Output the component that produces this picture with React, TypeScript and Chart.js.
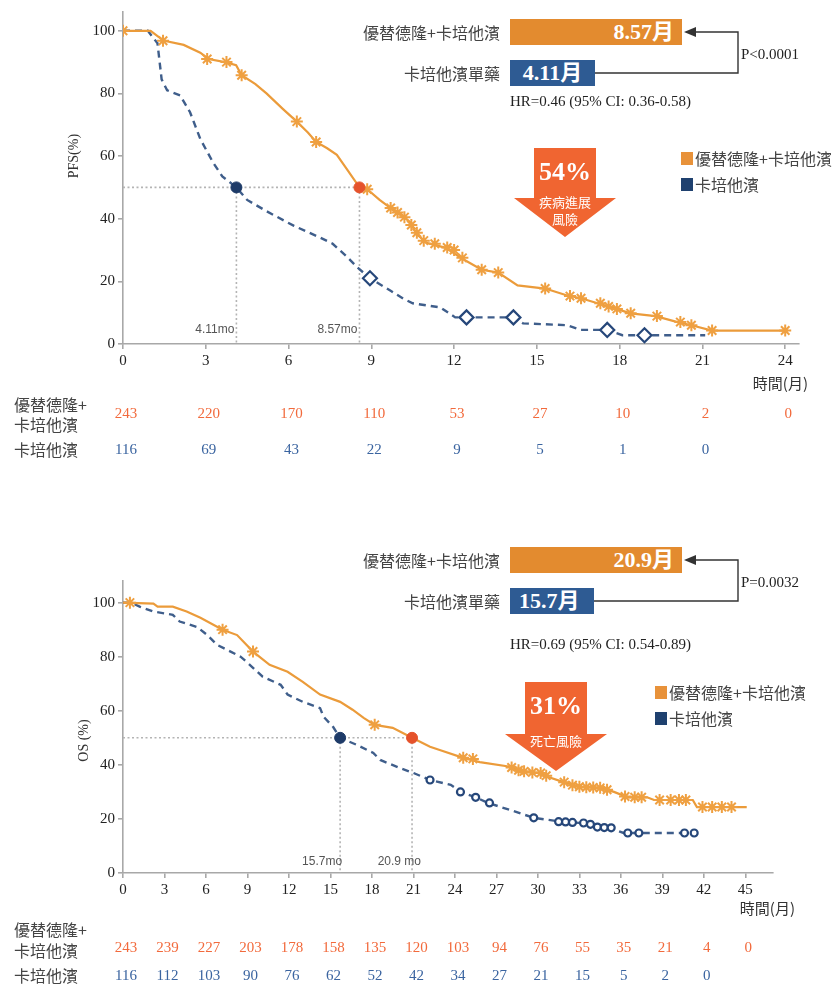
import React, { useEffect, useRef } from "react";
import { Chart, registerables } from "chart.js";

Chart.register(...registerables);

const SERIF = '"Liberation Serif", "Times New Roman", "Noto Sans CJK TC", serif';
const CJK = '"Noto Sans CJK TC", "Noto Sans CJK SC", sans-serif';
const NARROW = '"Liberation Sans Narrow", "Liberation Sans", sans-serif';

const COMBO_LINE = "#EB9B3A";
const MONO_LINE = "#3F5E8B";
const COMBO_TEXT = "#F26A3C";
const MONO_TEXT = "#3A64A0";
const COMBO_BAR = "#E38B2F";
const MONO_BAR = "#2E5B93";
const ARROW_RED = "#F06531";
const AXIS = "#A8A8A8";

const comboName = "優替德隆+卡培他濱";
const monoName = "卡培他濱";
const monoAlone = "卡培他濱單藥";

// ---------- PFS ----------
const pfsMonths = [0, 3, 6, 9, 12, 15, 18, 21, 24];
const pfsComboRisk = [243, 220, 170, 110, 53, 27, 10, 2, 0];
const pfsMonoRisk = [116, 69, 43, 22, 9, 5, 1, 0];

const pfsComboX = [0, 1.0, 1.3, 1.5, 2.2, 2.8, 3.1, 3.7, 4.1, 4.3, 4.8, 5.2, 5.8, 6.3, 6.7, 7.0, 7.4, 7.75, 8.1, 8.57, 8.85, 9.3, 9.7, 10.05, 10.4, 10.65, 11.0, 11.7, 12.3, 13.0, 13.6, 14.3, 15.3, 16.1, 16.6, 17.2, 17.7, 18.4, 19.3, 20.1, 20.6, 21.35, 24];
const pfsComboY = [100, 100, 98, 96.8, 95.5, 93, 91, 90, 89, 85.8, 83, 80, 75, 71, 67.5, 64.5, 62.5, 60.4, 56, 50, 49.4, 46, 43.4, 41.5, 39, 35, 32.3, 30.7, 27.2, 23.7, 22.8, 18.7, 17.7, 15.5, 14.6, 13, 11.7, 9.8, 8.9, 7, 6, 4.3, 4.3];
const pfsMonoX = [0, 0.9, 1.25, 1.4, 1.6, 2.07, 2.43, 2.8, 3.26, 3.6, 4.11, 4.5, 5.2, 6.2, 7.14, 7.6, 8.1, 8.5, 8.95, 9.7, 10.15, 10.5, 11.5, 12.04, 14.15, 14.5, 16.1, 16.6, 17.55, 18.1, 21.1];
const pfsMonoY = [100, 100, 96, 84.5, 81, 79.4, 74, 65.5, 58, 53.5, 50, 46, 42.4, 37.7, 34, 32, 28, 24.4, 21, 17, 14.5, 13, 11.7, 8.5, 8.5, 6.6, 6, 4.5, 4.5, 2.8, 2.8];
const pfsComboCensorX = [0, 1.45, 3.05, 3.75, 4.3, 6.3, 7.0, 8.85, 9.7, 9.95, 10.2, 10.45, 10.65, 10.9, 11.3, 11.75, 12.0, 12.3, 13.0, 13.6, 15.3, 16.2, 16.6, 17.3, 17.6, 17.9, 18.4, 19.35, 20.2, 20.6, 21.35, 24];
const pfsComboCensorY = [100, 96.8, 91, 90, 85.8, 71, 64.5, 49.4, 43.4, 42, 40.5, 38, 35.5, 33, 32, 30.8, 30, 27.5, 23.7, 22.8, 17.7, 15.3, 14.6, 13, 12, 11.2, 9.8, 8.9, 7, 6, 4.3, 4.3];
const pfsMonoCensorX = [8.95, 12.45, 14.15, 17.55, 18.9];
const pfsMonoCensorY = [21, 8.5, 8.5, 4.5, 2.8];
const pfsComboMedian = 8.57;
const pfsMonoMedian = 4.11;

// ---------- OS ----------
const osMonths = [0, 3, 6, 9, 12, 15, 18, 21, 24, 27, 30, 33, 36, 39, 42, 45];
const osComboRisk = [243, 239, 227, 203, 178, 158, 135, 120, 103, 94, 76, 55, 35, 21, 4, 0];
const osMonoRisk = [116, 112, 103, 90, 76, 62, 52, 42, 34, 27, 21, 15, 5, 2, 0];

const osComboX = [0, 2.2, 2.5, 3.6, 4.6, 5.6, 7.2, 8.25, 9.4, 10.6, 11.9, 13.0, 14.25, 15.7, 16.6, 17.4, 18.2, 19.5, 20.9, 22.2, 22.9, 24.6, 25.8, 28.0, 28.6, 29.2, 30.2, 30.7, 31.8, 33.0, 34.5, 35.5, 36.5, 37.9, 38.4, 41.2, 41.5, 45.1];
const osComboY = [100, 99.6, 98.5, 98.5, 96.7, 94.4, 90, 88, 81.9, 77, 74.4, 70.7, 66, 63.3, 60.4, 57.4, 54.8, 53.7, 50, 46.7, 45.5, 42.6, 41, 39.3, 38, 37.4, 37, 35.6, 33.7, 31.9, 31.5, 30, 28, 28, 27, 27, 24.4, 24.4];
const osMonoX = [0, 0.6, 1.2, 2.2, 3.6, 4.1, 5.35, 6.1, 6.8, 7.5, 8.5, 9.0, 10.1, 11.4, 11.9, 13.0, 14.25, 14.5, 15.2, 15.7, 16.9, 18.1, 18.6, 20.0, 21.0, 22.2, 23.7, 24.4, 25.5, 26.4, 28.0, 29.7, 31.8, 33.2, 34.0, 35.2, 36.2, 41.75];
const osMonoY = [100, 100, 98.5, 96.7, 95.5, 93, 91, 88, 84.4, 82.6, 80, 77.8, 72.6, 69.6, 66, 63.3, 61, 57.8, 54, 50, 47.4, 44.4, 41.8, 38.9, 37, 34.4, 32.6, 30, 28, 25.9, 23.3, 20.4, 18.9, 18.5, 17, 16.7, 14.8, 14.8];
const osComboCensorX = [0.5, 7.2, 9.4, 18.2, 24.6, 25.3, 28.1, 28.6, 29.0, 29.6, 30.2, 30.6, 31.9, 32.5, 33.0, 33.5, 34.0, 34.5, 35.0, 36.3, 37.0, 37.5, 38.8, 39.6, 40.2, 40.7, 41.9, 42.6, 43.3, 44.0];
const osComboCensorY = [100, 90, 81.9, 54.8, 42.6, 42.2, 39, 38, 37.6, 37.2, 37, 36, 33.6, 32.5, 31.9, 31.7, 31.6, 31.5, 30.8, 28.3, 28, 28, 27, 27, 27, 27, 24.4, 24.4, 24.4, 24.4];
const osMonoCensorX = [22.2, 24.4, 25.5, 26.5, 29.7, 31.5, 32.0, 32.5, 33.3, 33.8, 34.3, 34.8, 35.3, 36.5, 37.3, 40.6, 41.3];
const osMonoCensorY = [34.4, 30, 28, 25.9, 20.4, 19, 18.9, 18.7, 18.5, 18, 17, 16.8, 16.7, 14.8, 14.8, 14.8, 14.8];
const osComboMedian = 20.9;
const osMonoMedian = 15.7;

type Pt = { x: number; y: number };
const zip = (xs: number[], ys: number[]): Pt[] => xs.map((x, i) => ({ x, y: ys[i] }));

type Panel = {
  top: number;
  height: number;
  padding: { top: number; right: number; bottom: number; left: number };
  xMax: number;
  yMax: number;
  months: number[];
  comboRisk: number[];
  monoRisk: number[];
  comboX: number[]; comboY: number[];
  monoX: number[]; monoY: number[];
  comboCX: number[]; comboCY: number[];
  monoCX: number[]; monoCY: number[];
  comboMedian: number; monoMedian: number;
  monoCensorStyle: "rectRot" | "circle";
  monoCensorRadius: number;
  yTitle: string; yTitleX: number; yTitleAt: number;
  medianLabelDy: number;
  medianLabels: { value: number; text: string; dx: number }[];
  unitRight: number; unitY: number;
  comboLabelY: [number, number]; comboNumY: number; monoNumY: number;
};

const panels: Panel[] = [
  {
    top: 0, height: 470,
    padding: { top: 9, right: 36, bottom: 96, left: 0 },
    xMax: 24.5, yMax: 106,
    months: pfsMonths, comboRisk: pfsComboRisk, monoRisk: pfsMonoRisk,
    comboX: pfsComboX, comboY: pfsComboY, monoX: pfsMonoX, monoY: pfsMonoY,
    comboCX: pfsComboCensorX, comboCY: pfsComboCensorY,
    monoCX: pfsMonoCensorX, monoCY: pfsMonoCensorY,
    comboMedian: pfsComboMedian, monoMedian: pfsMonoMedian,
    monoCensorStyle: "rectRot", monoCensorRadius: 7,
    yTitle: "PFS(%)", yTitleX: 74, yTitleAt: 60,
    medianLabelDy: -14,
    medianLabels: [
      { value: pfsMonoMedian, text: "4.11mo", dx: -2 },
      { value: pfsComboMedian, text: "8.57mo", dx: -2 },
    ],
    unitRight: 808, unitY: 383,
    comboLabelY: [405, 425], comboNumY: 414, monoNumY: 450,
  },
  {
    top: 530, height: 456,
    padding: { top: 51, right: 62, bottom: 83, left: 0 },
    xMax: 47, yMax: 108,
    months: osMonths, comboRisk: osComboRisk, monoRisk: osMonoRisk,
    comboX: osComboX, comboY: osComboY, monoX: osMonoX, monoY: osMonoY,
    comboCX: osComboCensorX, comboCY: osComboCensorY,
    monoCX: osMonoCensorX, monoCY: osMonoCensorY,
    comboMedian: osComboMedian, monoMedian: osMonoMedian,
    monoCensorStyle: "circle", monoCensorRadius: 3.5,
    yTitle: "OS (%)", yTitleX: 84, yTitleAt: 49,
    medianLabelDy: -11,
    medianLabels: [
      { value: osMonoMedian, text: "15.7mo", dx: 2 },
      { value: osComboMedian, text: "20.9 mo", dx: 9 },
    ],
    unitRight: 795, unitY: 378,
    comboLabelY: [400, 421], comboNumY: 418, monoNumY: 446,
  },
];

function overlay(p: Panel) {
  return {
    id: "kmOverlay",
    afterDraw(chart: any) {
      const ctx: CanvasRenderingContext2D = chart.ctx;
      const xs = chart.scales.x;
      const ys = chart.scales.y;
      // axis title
      ctx.save();
      ctx.translate(p.yTitleX, ys.getPixelForValue(p.yTitleAt));
      ctx.rotate(-Math.PI / 2);
      ctx.font = `14px ${SERIF}`;
      ctx.fillStyle = "#333";
      ctx.textAlign = "center";
      ctx.textBaseline = "middle";
      ctx.fillText(p.yTitle, 0, 0);
      ctx.restore();

      // median labels
      ctx.save();
      ctx.font = `12px ${NARROW}`;
      ctx.fillStyle = "#555";
      ctx.textAlign = "right";
      ctx.textBaseline = "middle";
      const y0 = ys.getPixelForValue(0);
      p.medianLabels.forEach((m) => {
        ctx.fillText(m.text, xs.getPixelForValue(m.value) + m.dx, y0 + p.medianLabelDy);
      });
      ctx.restore();

      // time unit
      ctx.save();
      ctx.font = `15px ${CJK}`;
      ctx.fillStyle = "#333";
      ctx.textAlign = "right";
      ctx.textBaseline = "middle";
      ctx.fillText("時間(月)", p.unitRight, p.unitY);
      ctx.restore();

      // numbers at risk
      ctx.save();
      ctx.textBaseline = "middle";
      ctx.textAlign = "left";
      ctx.font = `16px ${CJK}`;
      ctx.fillStyle = "#444";
      ctx.fillText("優替德隆+", 14, p.comboLabelY[0]);
      ctx.fillText(monoName, 14, p.comboLabelY[1]);
      ctx.fillText(monoName, 14, p.monoNumY);
      ctx.font = `15px ${SERIF}`;
      ctx.textAlign = "center";
      ctx.fillStyle = COMBO_TEXT;
      p.comboRisk.forEach((n, i) => ctx.fillText(String(n), xs.getPixelForValue(p.months[i]) + 3, p.comboNumY));
      ctx.fillStyle = MONO_TEXT;
      p.monoRisk.forEach((n, i) => ctx.fillText(String(n), xs.getPixelForValue(p.months[i]) + 3, p.monoNumY));
      ctx.restore();
    },
  };
}

function buildChart(canvas: HTMLCanvasElement, p: Panel) {
  const refStyle = {
    showLine: true,
    borderColor: "#B4B4B4",
    borderWidth: 1.6,
    borderDash: [2, 2.5],
    pointRadius: 0,
  };
  const axisGrid = {
    drawOnChartArea: false,
    color: AXIS,
    lineWidth: 1.6,
    tickLength: 5,
  };
  return new Chart(canvas, {
    type: "scatter",
    data: {
      datasets: [
        {
          data: [{ x: p.comboMedian, y: 50 }],
          pointRadius: 5.5,
          pointBackgroundColor: "#E5522B",
          pointBorderColor: "#E5522B",
        },
        {
          data: [{ x: p.monoMedian, y: 50 }],
          pointRadius: 5.5,
          pointBackgroundColor: "#1E3B68",
          pointBorderColor: "#1E3B68",
        },
        {
          data: zip(p.comboCX, p.comboCY),
          pointStyle: "star",
          pointRadius: 6,
          pointBorderWidth: 2,
          pointBorderColor: "#EFA041",
          pointBackgroundColor: "#EFA041",
        },
        {
          data: zip(p.monoCX, p.monoCY),
          pointStyle: p.monoCensorStyle,
          pointRadius: p.monoCensorRadius,
          pointBorderWidth: 2.2,
          pointBorderColor: "#26477A",
          pointBackgroundColor: "#ffffff",
        },
        {
          data: zip(p.comboX, p.comboY),
          showLine: true,
          borderColor: COMBO_LINE,
          borderWidth: 2.2,
          pointRadius: 0,
        },
        {
          data: zip(p.monoX, p.monoY),
          showLine: true,
          borderColor: MONO_LINE,
          borderWidth: 2.4,
          borderDash: [7, 5],
          pointRadius: 0,
        },
        { ...refStyle, data: [{ x: 0, y: 50 }, { x: p.comboMedian, y: 50 }] },
        { ...refStyle, data: [{ x: p.monoMedian, y: 50 }, { x: p.monoMedian, y: 0 }] },
        { ...refStyle, data: [{ x: p.comboMedian, y: 50 }, { x: p.comboMedian, y: 0 }] },
      ],
    },
    options: {
      responsive: false,
      devicePixelRatio: 1,
      animation: false,
      events: [],
      layout: { padding: p.padding },
      plugins: { legend: { display: false }, tooltip: { enabled: false } },
      scales: {
        x: {
          type: "linear",
          min: 0,
          max: p.xMax,
          afterFit: (s: any) => { s.height = 30; },
          afterBuildTicks: (s: any) => {
            s.ticks = p.months.map((v) => ({ value: v }));
          },
          ticks: { stepSize: 3, color: "#222", font: { family: SERIF, size: 15 }, padding: 3, maxRotation: 0 },
          grid: axisGrid,
          border: { color: AXIS, width: 1.6 },
        },
        y: {
          type: "linear",
          min: 0,
          max: p.yMax,
          afterFit: (s: any) => { s.width = 123; },
          afterBuildTicks: (s: any) => {
            s.ticks = [0, 20, 40, 60, 80, 100].map((v) => ({ value: v }));
          },
          ticks: { stepSize: 20, color: "#222", font: { family: SERIF, size: 15 }, padding: 3 },
          grid: axisGrid,
          border: { color: AXIS, width: 1.6 },
        },
      },
    },
    plugins: [overlay(p)],
  } as any);
}

function KmCanvas({ panel }: { panel: Panel }) {
  const ref = useRef<HTMLCanvasElement | null>(null);
  useEffect(() => {
    if (!ref.current) return;
    const chart = buildChart(ref.current, panel);
    return () => chart.destroy();
  }, [panel]);
  return (
    <canvas
      ref={ref}
      width={835}
      height={panel.height}
      style={{ position: "absolute", left: 0, top: panel.top, width: 835, height: panel.height }}
    />
  );
}

type Summary = {
  top: number;
  comboMonths: string;
  monoMonths: string;
  monoBarWidth: number;
  monoAlign: "center" | "left";
  pText: string;
  hrText: string;
  hrTop: number;
  pct: string;
  riskLines: string[];
  arrowLeft: number;
  arrowTop: number;
  legendLeft: number;
  legendTop: number;
};

const summaries: Summary[] = [
  {
    top: 19, comboMonths: "8.57月", monoMonths: "4.11月", monoBarWidth: 85, monoAlign: "center",
    pText: "P<0.0001", hrText: "HR=0.46 (95% CI: 0.36-0.58)", hrTop: 101,
    pct: "54%", riskLines: ["疾病進展", "風險"],
    arrowLeft: 514, arrowTop: 148, legendLeft: 681, legendTop: 152,
  },
  {
    top: 547, comboMonths: "20.9月", monoMonths: "15.7月", monoBarWidth: 84, monoAlign: "left",
    pText: "P=0.0032", hrText: "HR=0.69 (95% CI: 0.54-0.89)", hrTop: 644,
    pct: "31%", riskLines: ["死亡風險"],
    arrowLeft: 505, arrowTop: 682, legendLeft: 655, legendTop: 686,
  },
];

const abs = (left: number, top: number, extra: React.CSSProperties = {}): React.CSSProperties => ({
  position: "absolute",
  left,
  top,
  ...extra,
});

function SummaryBlock({ s }: { s: Summary }) {
  const rowH = 26;
  const gap = 15;
  const monoTop = s.top + rowH + gap;
  const labelStyle: React.CSSProperties = {
    position: "absolute",
    right: 835 - 500,
    fontFamily: CJK,
    fontSize: 16,
    color: "#444",
    whiteSpace: "nowrap",
    lineHeight: `${rowH}px`,
    height: rowH,
  };
  const valueStyle: React.CSSProperties = {
    fontFamily: SERIF,
    fontWeight: "bold",
    fontSize: 22,
    color: "#fff",
    lineHeight: `${rowH}px`,
    whiteSpace: "nowrap",
  };
  const bodyH = s.riskLines.length > 1 ? 50 : 52;
  const triH = s.riskLines.length > 1 ? 39 : 37;
  return (
    <>
      <div style={{ ...labelStyle, top: s.top }}>{comboName}</div>
      <div
        style={abs(510, s.top, {
          width: 172, height: rowH, background: COMBO_BAR, textAlign: "right",
          boxSizing: "border-box", paddingRight: 8, ...valueStyle,
        })}
      >
        {s.comboMonths}
      </div>
      <div style={{ ...labelStyle, top: monoTop }}>{monoAlone}</div>
      <div
        style={abs(510, monoTop, {
          width: s.monoBarWidth, height: rowH, background: MONO_BAR, textAlign: s.monoAlign,
          boxSizing: "border-box", paddingLeft: s.monoAlign === "left" ? 9 : 0, ...valueStyle,
        })}
      >
        {s.monoMonths}
      </div>
      <svg style={abs(0, 0, { overflow: "visible" })} width={835} height={986}>
        <polyline
          points={`${510 + s.monoBarWidth},${monoTop + rowH / 2} 738,${monoTop + rowH / 2} 738,${s.top + rowH / 2} 693,${s.top + rowH / 2}`}
          fill="none"
          stroke="#333"
          strokeWidth={1.4}
        />
        <polygon
          points={`684,${s.top + rowH / 2} 696,${s.top + rowH / 2 - 5} 696,${s.top + rowH / 2 + 5}`}
          fill="#333"
        />
        <polygon
          points={[
            [s.arrowLeft + 20, s.arrowTop],
            [s.arrowLeft + 82, s.arrowTop],
            [s.arrowLeft + 82, s.arrowTop + bodyH],
            [s.arrowLeft + 102, s.arrowTop + bodyH],
            [s.arrowLeft + 51, s.arrowTop + bodyH + triH],
            [s.arrowLeft, s.arrowTop + bodyH],
            [s.arrowLeft + 20, s.arrowTop + bodyH],
          ].map((q) => q.join(",")).join(" ")}
          fill={ARROW_RED}
        />
        <text
          x={s.arrowLeft + 51}
          y={s.arrowTop + 26}
          textAnchor="middle"
          dominantBaseline="middle"
          fill="#fff"
          fontFamily={SERIF}
          fontWeight="bold"
          fontSize={26}
        >
          {s.pct}
        </text>
        {s.riskLines.map((t, i) => (
          <text
            key={t}
            x={s.arrowLeft + 51}
            y={s.arrowTop + (s.riskLines.length > 1 ? 55 + i * 17 : 60)}
            textAnchor="middle"
            dominantBaseline="middle"
            fill="#fff"
            fontFamily={CJK}
            fontSize={13}
          >
            {t}
          </text>
        ))}
      </svg>
      <div style={abs(741, s.top + rowH + 1, { fontFamily: SERIF, fontSize: 15, color: "#222", lineHeight: "16px" })}>
        {s.pText}
      </div>
      <div style={abs(510, s.hrTop - 9, { fontFamily: SERIF, fontSize: 15, color: "#222", lineHeight: "18px", whiteSpace: "nowrap" })}>
        {s.hrText}
      </div>
      {[
        { color: "#E8923A", text: comboName },
        { color: "#1F416F", text: monoName },
      ].map((e, i) => (
        <React.Fragment key={e.text}>
          <div style={abs(s.legendLeft, s.legendTop + i * 26, { width: 12, height: 13, background: e.color })} />
          <div
            style={abs(s.legendLeft + 14, s.legendTop + i * 26 - 5, {
              fontFamily: CJK, fontSize: 16, color: "#444", lineHeight: "22px", whiteSpace: "nowrap",
            })}
          >
            {e.text}
          </div>
        </React.Fragment>
      ))}
    </>
  );
}

export default function App() {
  return (
    <div style={{ position: "absolute", left: 0, top: 0, width: 835, height: 986, background: "#fff", overflow: "hidden" }}>
      {panels.map((p, i) => (
        <KmCanvas key={i} panel={p} />
      ))}
      {summaries.map((s, i) => (
        <SummaryBlock key={i} s={s} />
      ))}
    </div>
  );
}
